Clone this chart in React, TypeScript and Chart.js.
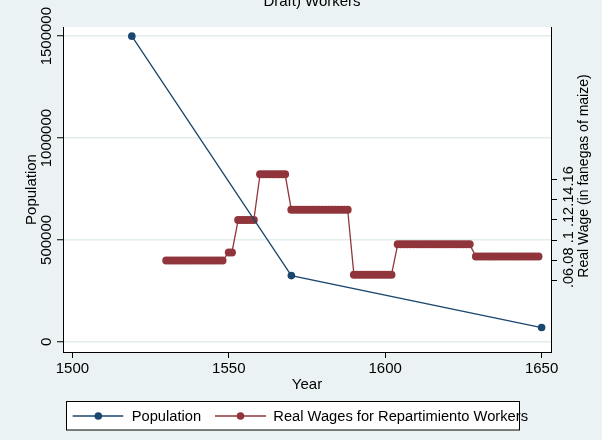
import React, { useEffect, useRef } from "react";
import { Chart, registerables } from "chart.js";

Chart.register(...registerables);

// ---------- data ----------
const popYears = [1519, 1570, 1650];
const popValues = [1500000, 325000, 70000];

const wageYears = [
  1530, 1531, 1532, 1533, 1534, 1535, 1536, 1537, 1538, 1539, 1540, 1541, 1542, 1543, 1544, 1545, 1546, 1547, 1548,
  1550, 1551,
  1553, 1554, 1555, 1556, 1557, 1558,
  1560, 1561, 1562, 1563, 1564, 1565, 1566, 1567, 1568,
  1570, 1571, 1572, 1573, 1574, 1575, 1576, 1577, 1578, 1579, 1580, 1581, 1582, 1583, 1584, 1585, 1586, 1587, 1588,
  1590, 1591, 1592, 1593, 1594, 1595, 1596, 1597, 1598, 1599, 1600, 1601, 1602,
  1604, 1605, 1606, 1607, 1608, 1609, 1610, 1611, 1612, 1613, 1614, 1615, 1616, 1617, 1618, 1619, 1620, 1621, 1622, 1623, 1624, 1625, 1626, 1627,
  1629, 1630, 1631, 1632, 1633, 1634, 1635, 1636, 1637, 1638, 1639, 1640, 1641, 1642, 1643, 1644, 1645, 1646, 1647, 1648, 1649,
];
const wageValues = [
  0.08, 0.08, 0.08, 0.08, 0.08, 0.08, 0.08, 0.08, 0.08, 0.08, 0.08, 0.08, 0.08, 0.08, 0.08, 0.08, 0.08, 0.08, 0.08,
  0.088, 0.088,
  0.12, 0.12, 0.12, 0.12, 0.12, 0.12,
  0.165, 0.165, 0.165, 0.165, 0.165, 0.165, 0.165, 0.165, 0.165,
  0.13, 0.13, 0.13, 0.13, 0.13, 0.13, 0.13, 0.13, 0.13, 0.13, 0.13, 0.13, 0.13, 0.13, 0.13, 0.13, 0.13, 0.13, 0.13,
  0.066, 0.066, 0.066, 0.066, 0.066, 0.066, 0.066, 0.066, 0.066, 0.066, 0.066, 0.066, 0.066,
  0.096, 0.096, 0.096, 0.096, 0.096, 0.096, 0.096, 0.096, 0.096, 0.096, 0.096, 0.096, 0.096, 0.096, 0.096, 0.096, 0.096, 0.096, 0.096, 0.096, 0.096, 0.096, 0.096, 0.096,
  0.084, 0.084, 0.084, 0.084, 0.084, 0.084, 0.084, 0.084, 0.084, 0.084, 0.084, 0.084, 0.084, 0.084, 0.084, 0.084, 0.084, 0.084, 0.084, 0.084, 0.084,
];

const xTicks = [1500, 1550, 1600, 1650];
const yLeftTicks = [0, 500000, 1000000, 1500000];
const yLeftLabels = ["0", "500000", "1000000", "1500000"];
const yRightTicks = [0.06, 0.08, 0.1, 0.12, 0.14, 0.16];
const yRightLabels = [".06", ".08", ".1", ".12", ".14", ".16"];

const seriesLabels = ["Population", "Real Wages for Repartimiento Workers"];
const titleText = "Draft) Workers";
const xTitle = "Year";
const yLeftTitle = "Population";
const yRightTitle = "Real Wage (in fanegas of maize)";

// ---------- style ----------
const NAVY = "#1a476f";
const MAROON = "#90353b";
const BG = "#eaf2f3";
const GRID = "#e3ecee";
const FONT = '"Liberation Sans", Arial, sans-serif';

function vText(ctx: CanvasRenderingContext2D, text: string, x: number, y: number) {
  ctx.save();
  ctx.translate(x, y);
  ctx.rotate(-Math.PI / 2);
  ctx.textAlign = "center";
  ctx.textBaseline = "middle";
  ctx.fillText(text, 0, 0);
  ctx.restore();
}

const decor = {
  id: "decor",
  beforeDraw(chart: any) {
    const { ctx, chartArea: a, width, height } = chart;
    ctx.save();
    ctx.fillStyle = BG;
    ctx.fillRect(0, 0, width, height);
    ctx.fillStyle = "#ffffff";
    ctx.fillRect(a.left, a.top, a.right - a.left, a.bottom - a.top);
    ctx.restore();
  },
  afterDraw(chart: any) {
    const { ctx, chartArea: a, scales } = chart;
    const sx = scales.x;
    const sy = scales.y;
    const sy2 = scales.y1;
    ctx.save();
    ctx.fillStyle = "#000";
    ctx.font = `15px ${FONT}`;

    // left tick labels
    yLeftTicks.forEach((v, i) => vText(ctx, yLeftLabels[i], 46.5, sy.getPixelForValue(v)));
    // left title
    vText(ctx, yLeftTitle, 32, (a.top + a.bottom) / 2);
    // right tick labels
    ctx.font = `14.5px ${FONT}`;
    yRightTicks.forEach((v, i) => vText(ctx, yRightLabels[i], 569, sy2.getPixelForValue(v) - 3));
    // right title
    ctx.font = `14px ${FONT}`;
    vText(ctx, yRightTitle, 584, 176);

    // x tick labels
    ctx.font = `15px ${FONT}`;
    ctx.textAlign = "center";
    ctx.textBaseline = "middle";
    xTicks.forEach((v) => ctx.fillText(String(v), sx.getPixelForValue(v), 369));
    ctx.fillText(xTitle, (a.left + a.right) / 2, 385);

    // title (cut at top)
    ctx.textBaseline = "alphabetic";
    ctx.fillText(titleText, 312, 6);

    // legend
    const bx = 66.5, by = 401.5, bw = 453, bh = 28.5;
    ctx.fillStyle = "#ffffff";
    ctx.fillRect(bx, by, bw, bh);
    ctx.strokeStyle = "#000";
    ctx.lineWidth = 1;
    ctx.strokeRect(bx, by, bw, bh);
    const ly = 416;
    const items = [
      { color: NAVY, x0: 72.7, x1: 123.3, mx: 98.3, tx: 131.7, label: seriesLabels[0] },
      { color: MAROON, x0: 215, x1: 266, mx: 240.5, tx: 273.3, label: seriesLabels[1] },
    ];
    ctx.font = `14.7px ${FONT}`;
    ctx.textAlign = "left";
    ctx.textBaseline = "middle";
    items.forEach((it) => {
      ctx.strokeStyle = it.color;
      ctx.lineWidth = 1.3;
      ctx.beginPath();
      ctx.moveTo(it.x0, ly);
      ctx.lineTo(it.x1, ly);
      ctx.stroke();
      ctx.fillStyle = it.color;
      ctx.beginPath();
      ctx.arc(it.mx, ly, 3.8, 0, Math.PI * 2);
      ctx.fill();
      ctx.fillStyle = "#000";
      ctx.fillText(it.label, it.tx, ly + 0.5);
    });
    ctx.restore();
  },
};

export default function App() {
  const ref = useRef<HTMLCanvasElement | null>(null);

  useEffect(() => {
    document.body.style.margin = "0";
    const canvas = ref.current;
    if (!canvas) return;
    const chart = new Chart(canvas, {
      type: "line",
      data: {
        datasets: [
          {
            label: seriesLabels[0],
            data: popYears.map((x, i) => ({ x, y: popValues[i] })),
            yAxisID: "y",
            borderColor: NAVY,
            backgroundColor: NAVY,
            borderWidth: 1.3,
            pointRadius: 3.8,
            pointBorderWidth: 0,
            pointBackgroundColor: NAVY,
            tension: 0,
          },
          {
            label: seriesLabels[1],
            data: wageYears.map((x, i) => ({ x, y: wageValues[i] })),
            yAxisID: "y1",
            borderColor: MAROON,
            backgroundColor: MAROON,
            borderWidth: 1.3,
            pointRadius: 4,
            pointBorderWidth: 0,
            pointBackgroundColor: MAROON,
            tension: 0,
          },
        ],
      },
      options: {
        responsive: false,
        animation: false,
        devicePixelRatio: 1,
        layout: { padding: { top: 27, left: 0, right: 0, bottom: 0 } },
        plugins: { legend: { display: false }, title: { display: false }, tooltip: { enabled: false } },
        scales: {
          x: {
            type: "linear",
            position: "bottom",
            min: 1497,
            max: 1653,
            afterBuildTicks: (s: any) => {
              s.ticks = xTicks.map((v) => ({ value: v }));
            },
            afterFit: (s: any) => {
              s.height = 88;
            },
            ticks: { display: false },
            grid: { drawOnChartArea: false, drawTicks: true, tickLength: 6, tickColor: "#000", tickWidth: 1 },
            border: { display: true, color: "#000", width: 1 },
          },
          y: {
            type: "linear",
            position: "left",
            min: -50000,
            max: 1545000,
            afterBuildTicks: (s: any) => {
              s.ticks = yLeftTicks.map((v) => ({ value: v }));
            },
            afterFit: (s: any) => {
              s.width = 63;
            },
            ticks: { display: false },
            grid: { color: GRID, lineWidth: 1.5, drawTicks: true, tickLength: 6, tickColor: "#000", tickWidth: 1 },
            border: { display: true, color: "#000", width: 1 },
          },
          y1: {
            type: "linear",
            position: "right",
            min: -0.01,
            max: 0.31,
            afterBuildTicks: (s: any) => {
              s.ticks = yRightTicks.map((v) => ({ value: v }));
            },
            afterFit: (s: any) => {
              s.width = 51;
            },
            ticks: { display: false },
            grid: { drawOnChartArea: false, drawTicks: true, tickLength: 6, tickColor: "#000", tickWidth: 1 },
            border: { display: true, color: "#000", width: 1 },
          },
        },
      },
      plugins: [decor],
    });
    return () => chart.destroy();
  }, []);

  return <canvas ref={ref} width={602} height={440} style={{ display: "block", width: 602, height: 440 }} />;
}
